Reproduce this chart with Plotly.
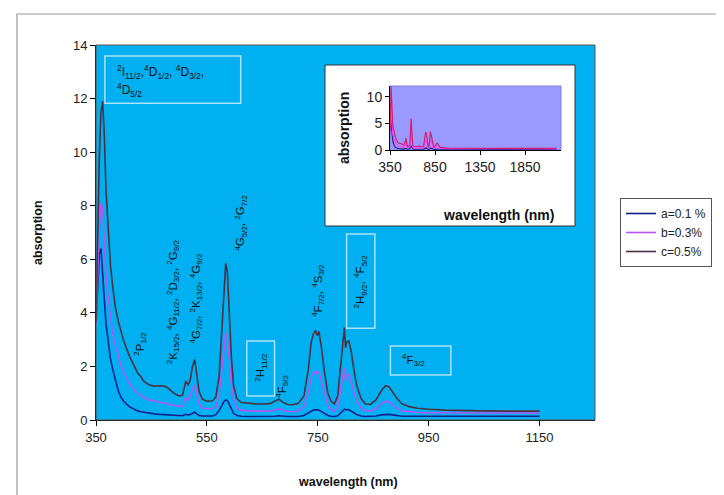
import plotly.graph_objects as go

# ---------------- data ----------------
wavelength = [350, 353, 356, 359, 362, 365, 368, 372, 376, 380, 385, 390, 395, 400, 410, 420, 425, 431, 436, 445,
              455, 465, 472, 478, 485, 492, 500, 506, 512, 516, 520, 524, 528, 532, 536, 542, 550, 560, 566, 572,
              577, 581, 584, 587, 590, 594, 598, 604, 612, 625, 640, 655, 665, 672, 680, 688, 696, 705, 715, 725,
              733, 738, 742, 746, 749, 752, 756, 762, 768, 774, 780, 786, 791, 795, 798, 800, 802, 806, 810, 815,
              820, 828, 836, 845, 855, 865, 872, 878, 885, 893, 902, 915, 930, 950, 980, 1010, 1050, 1100, 1150]

a_01 = [3.6, 5.0, 6.2, 6.4, 5.6, 4.5, 3.6, 2.9, 2.3, 1.9, 1.45, 1.1, 0.85, 0.7, 0.5, 0.38, 0.34, 0.31, 0.29, 0.26,
        0.23, 0.21, 0.2, 0.19, 0.18, 0.17, 0.16, 0.16, 0.21, 0.19, 0.21, 0.25, 0.29, 0.23, 0.17, 0.15, 0.14, 0.15, 0.2, 0.35,
        0.55, 0.7, 0.75, 0.72, 0.6, 0.4, 0.25, 0.17, 0.14, 0.13, 0.13, 0.13, 0.13, 0.14, 0.16, 0.14, 0.13, 0.13, 0.13, 0.17,
        0.26, 0.33, 0.37, 0.38, 0.37, 0.37, 0.32, 0.24, 0.17, 0.14, 0.13, 0.16, 0.26, 0.33, 0.4, 0.38, 0.39, 0.38, 0.34, 0.27,
        0.2, 0.15, 0.13, 0.13, 0.15, 0.19, 0.21, 0.21, 0.19, 0.16, 0.14, 0.14, 0.14, 0.14, 0.14, 0.14, 0.14, 0.14, 0.14]

b_03 = [3.6, 5.5, 7.2, 8.1, 7.9, 6.6, 5.4, 4.6, 3.8, 3.2, 2.75, 2.4, 2.05, 1.8, 1.35, 1.1, 1.0, 0.92, 0.85, 0.76,
        0.7, 0.66, 0.64, 0.62, 0.58, 0.54, 0.5, 0.52, 0.85, 0.75, 0.9, 1.15, 1.3, 0.95, 0.6, 0.45, 0.42, 0.43, 0.5, 0.9,
        1.9, 2.8, 3.25, 3.05, 2.35, 1.35, 0.75, 0.45, 0.36, 0.34, 0.33, 0.33, 0.34, 0.38, 0.42, 0.36, 0.32, 0.31, 0.34, 0.5,
        1.05, 1.55, 1.75, 1.83, 1.72, 1.8, 1.5, 0.98, 0.55, 0.38, 0.33, 0.5, 1.05, 1.5, 1.95, 1.5, 1.65, 1.7, 1.45, 1.05,
        0.72, 0.45, 0.34, 0.33, 0.42, 0.62, 0.7, 0.69, 0.58, 0.44, 0.34, 0.3, 0.28, 0.27, 0.26, 0.26, 0.26, 0.26, 0.26]

c_05 = [3.7, 7.0, 9.8, 11.5, 11.9, 10.6, 8.6, 7.2, 5.8, 5.0, 4.2, 3.7, 3.3, 2.95, 2.4, 1.95, 1.75, 1.62, 1.45, 1.32,
        1.26, 1.28, 1.27, 1.22, 1.1, 0.98, 0.9, 0.92, 1.45, 1.3, 1.5, 2.0, 2.25, 1.7, 1.05, 0.78, 0.7, 0.72, 0.85, 1.6,
        3.4, 5.0, 5.85, 5.5, 4.2, 2.4, 1.3, 0.8, 0.65, 0.62, 0.6, 0.6, 0.62, 0.7, 0.78, 0.65, 0.58, 0.57, 0.62, 0.9,
        1.9, 2.9, 3.2, 3.35, 3.15, 3.3, 2.8, 1.8, 1.0, 0.7, 0.6, 0.9, 1.9, 2.8, 3.45, 2.7, 2.9, 2.95, 2.6, 1.9,
        1.3, 0.8, 0.6, 0.58, 0.75, 1.1, 1.27, 1.25, 1.05, 0.8, 0.6, 0.5, 0.44, 0.4, 0.37, 0.35, 0.34, 0.33, 0.33]

# near-infrared continuation shown only in the inset
nir_wavelength = [1200, 1300, 1400, 1500, 1600, 1700, 1800, 1850, 1900, 2000, 2100, 2200]
nir_a = [0.1, 0.1, 0.1, 0.1, 0.1, 0.1, 0.1, 0.15, 0.1, 0.1, 0.1, 0.12]
nir_b = [0.2, 0.2, 0.2, 0.2, 0.2, 0.2, 0.2, 0.28, 0.2, 0.2, 0.2, 0.22]
nir_c = [0.3, 0.3, 0.3, 0.3, 0.3, 0.3, 0.32, 0.4, 0.32, 0.3, 0.3, 0.33]

series_names = ["a=0.1 %", "b=0.3%", "c=0.5%"]
series_colors = ["#14208c", "#b455f5", "#4a3040"]
inset_colors = ["#202080", "#ff40ff", "#d0206f"]

x_ticks = [350, 550, 750, 950, 1150]
inset_x_ticks = [350, 850, 1350, 1850]
inset_y_ticks = [0, 5, 10]

FONT = "Arial, Liberation Sans, sans-serif"

fig = go.Figure()
for name, ys, col in zip(series_names, [a_01, b_03, c_05], series_colors):
    fig.add_trace(go.Scatter(x=wavelength, y=ys, mode="lines", name=name,
                             line=dict(color=col, width=1.6)))

for ys, nir, col in zip([a_01, b_03, c_05], [nir_a, nir_b, nir_c], inset_colors):
    fig.add_trace(go.Scatter(x=wavelength + nir_wavelength, y=ys + nir, mode="lines",
                             showlegend=False, line=dict(color=col, width=1.2),
                             xaxis="x2", yaxis="y2"))

W, H = 724, 495
L, R, T, B = 88, 587, 37, 412
pw, ph = R - L, B - T


def px(xp):
    return (xp - L) / pw


def py(yp):
    return (B - yp) / ph


ix0, ix1, iy0, iy1 = 382, 553, 78, 142  # inset plotting area (pixels)

shapes = []
# outer chart frame
shapes.append(dict(type="rect", xref="paper", yref="paper", x0=px(9), x1=px(718), y0=py(490), y1=py(6),
                   line=dict(color="#9a9a9a", width=1.2), layer="below"))
# main plot area background
shapes.append(dict(type="rect", xref="paper", yref="paper", x0=0, x1=1, y0=0, y1=1,
                   fillcolor="#00b0f0", line=dict(width=0), layer="below"))
# inset white panel
shapes.append(dict(type="rect", xref="paper", yref="paper", x0=px(317), x1=px(567), y0=py(218), y1=py(57),
                   fillcolor="white", line=dict(color="#333333", width=1), layer="below"))
# inset plot area
shapes.append(dict(type="rect", xref="paper", yref="paper", x0=px(ix0), x1=px(ix1), y0=py(iy1), y1=py(iy0),
                   fillcolor="#9999ff", line=dict(color="#8080e0", width=1), layer="below"))
# plot area border
shapes.append(dict(type="rect", xref="paper", yref="paper", x0=0, x1=1, y0=0, y1=1,
                   line=dict(color="#555555", width=1), layer="above"))

box_col = "rgba(200,235,248,0.85)"
label_boxes = [(366, 611, 11.83, 13.59), (622, 672, 0.9, 2.95), (802, 853, 3.43, 6.94), (881, 990, 1.68, 2.76)]
for x0, x1, y0, y1 in label_boxes:
    shapes.append(dict(type="rect", xref="x", yref="y", x0=x0, x1=x1, y0=y0, y1=y1,
                       line=dict(color=box_col, width=1.5)))

ann = []
lab_font = dict(family=FONT, size=11.5, color="#111111")
box_font = dict(family=FONT, size=12, color="#111111")
ann.append(dict(x=384, y=13.0, xref="x", yref="y", xanchor="left", yanchor="middle", showarrow=False,
                font=box_font,
                text="<sup>2</sup>I<sub>11/2</sub>,<sup>4</sup>D<sub>1/2</sub>, <sup>4</sup>D<sub>3/2</sub>,"))
ann.append(dict(x=384, y=12.32, xref="x", yref="y", xanchor="left", yanchor="middle", showarrow=False,
                font=box_font, text="<sup>4</sup>D<sub>5/2</sub>"))
rot_labels = [
    (429, 2.84, "<sup>2</sup>P<sub>1/2</sub>"),
    (489, 4.4, "<sup>2</sup>K<sub>15/2</sub>, <sup>4</sup>G<sub>11/2</sub>, <sup>2</sup>D<sub>3/2</sub>, <sup>2</sup>G<sub>9/2</sub>"),
    (531, 4.55, "<sup>4</sup>G<sub>7/2</sub>, <sup>2</sup>K<sub>13/2</sub>, <sup>4</sup>G<sub>9/2</sub>"),
    (611, 7.35, "<sup>4</sup>G<sub>5/2</sub>, <sup>2</sup>G<sub>7/2</sub>"),
    (647, 1.94, "<sup>2</sup>H<sub>11/2</sub>"),
    (685, 1.27, "<sup>4</sup>F<sub>9/2</sub>"),
    (750, 4.85, "<sup>4</sup>F<sub>7/2</sub>, <sup>4</sup>S<sub>3/2</sub>"),
    (827, 5.19, "<sup>2</sup>H<sub>9/2</sub>, <sup>4</sup>F<sub>5/2</sub>"),
]
for x, y, t in rot_labels:
    ann.append(dict(x=x, y=y, xref="x", yref="y", xanchor="center", yanchor="middle", showarrow=False,
                    textangle=-90, font=lab_font, text=t))
ann.append(dict(x=923, y=2.24, xref="x", yref="y", xanchor="center", yanchor="middle", showarrow=False,
                font=lab_font, text="<sup>4</sup>F<sub>3/2</sub>"))

title_font = dict(family=FONT, size=12.5, color="#111111")
ann.append(dict(x=px(340), y=py(474), xref="paper", yref="paper", xanchor="center", yanchor="middle",
                showarrow=False, font=title_font, text="<b>wavelength (nm)</b>"))
ann.append(dict(x=px(30), y=py(225), xref="paper", yref="paper", xanchor="center", yanchor="middle",
                showarrow=False, font=title_font, textangle=-90, text="<b>absorption</b>"))
inset_title_font = dict(family=FONT, size=14, color="#111111")
ann.append(dict(x=px(490), y=py(207), xref="paper", yref="paper", xanchor="center", yanchor="middle",
                showarrow=False, font=inset_title_font, text="<b>wavelength (nm)</b>"))
ann.append(dict(x=px(336), y=py(120), xref="paper", yref="paper", xanchor="center", yanchor="middle",
                showarrow=False, font=inset_title_font, textangle=-90, text="<b>absorption</b>"))

fig.update_layout(
    width=W, height=H,
    margin=dict(l=L, r=W - R, t=T, b=H - B, autoexpand=False),
    paper_bgcolor="white",
    plot_bgcolor="rgba(0,0,0,0)",
    font=dict(family=FONT, size=12, color="#222222"),
    xaxis=dict(range=[350, 1250], tickvals=x_ticks, ticks="outside", ticklen=5, tickcolor="black",
               showline=True, linecolor="black", linewidth=1, showgrid=False, zeroline=False,
               tickfont=dict(size=13, color="#222222"), domain=[0, 1]),
    yaxis=dict(range=[0, 14], dtick=2, ticks="outside", ticklen=5, tickcolor="black",
               showline=True, linecolor="black", linewidth=1, showgrid=False, zeroline=False,
               tickfont=dict(size=13, color="#222222"), domain=[0, 1]),
    xaxis2=dict(domain=[px(ix0), px(ix1)], anchor="y2", range=[350, 2250], tickvals=inset_x_ticks,
                ticks="outside", ticklen=4, tickcolor="black", showline=True, linecolor="black",
                showgrid=False, zeroline=False, tickfont=dict(size=14, color="#222222")),
    yaxis2=dict(domain=[py(iy1), py(iy0)], anchor="x2", range=[0, 12], tickvals=inset_y_ticks,
                ticks="outside", ticklen=4, tickcolor="black", showline=True, linecolor="black",
                showgrid=False, zeroline=False, tickfont=dict(size=14, color="#222222")),
    legend=dict(x=px(612), y=py(190), xanchor="left", yanchor="top", bgcolor="white",
                bordercolor="#555555", borderwidth=1, font=dict(family=FONT, size=12, color="#222222"),
                itemwidth=30),
    shapes=shapes,
    annotations=ann,
)

fig.write_html("out.html")
